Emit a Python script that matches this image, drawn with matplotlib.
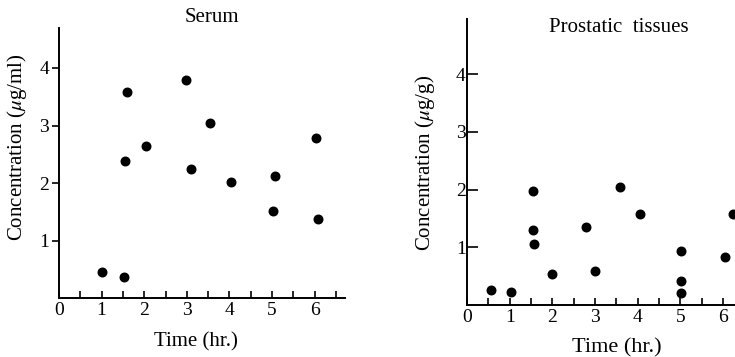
import matplotlib
matplotlib.use("Agg")
import matplotlib.pyplot as plt
from matplotlib.ticker import MultipleLocator

plt.rcParams['font.family'] = ['Liberation Serif', 'DejaVu Serif']
plt.rcParams['mathtext.fontset'] = 'stix'

# Serum data
serum_t = [1.02, 1.52, 1.59, 1.55, 2.05, 2.97, 3.10, 3.55, 4.03, 5.02, 5.07, 6.04, 6.08]
serum_c = [0.46, 0.36, 3.59, 2.39, 2.65, 3.80, 2.24, 3.04, 2.02, 1.51, 2.12, 2.79, 1.37]

# Prostatic tissue data
tissue_t = [0.57, 1.02, 1.55, 1.55, 1.57, 2.00, 2.78, 3.00, 3.58, 4.05, 5.01, 5.01, 5.01, 6.04, 6.24]
tissue_c = [0.26, 0.23, 1.98, 1.30, 1.06, 0.53, 1.35, 0.59, 2.04, 1.57, 0.94, 0.42, 0.21, 0.83, 1.57]

x_ticks = [0, 1, 2, 3, 4, 5, 6]
y_ticks = [1, 2, 3, 4]

W, H = 735, 357
fig = plt.figure(figsize=(W / 100, H / 100), dpi=100)

def px_axes(x0, x1, ytop, ybot):
    return fig.add_axes([x0 / W, (H - ybot) / H, (x1 - x0) / W, (ybot - ytop) / H])

def style(ax, ydir):
    for s in ['top', 'right']:
        ax.spines[s].set_visible(False)
    for s in ['left', 'bottom']:
        ax.spines[s].set_linewidth(1.4)
    ax.set_xticks(x_ticks)
    ax.set_xticklabels([str(v) for v in x_ticks])
    ax.xaxis.set_minor_locator(MultipleLocator(0.5))
    ax.set_yticks(y_ticks)
    ax.set_yticklabels([str(v) for v in y_ticks])
    ax.tick_params(axis='x', which='both', direction='in', length=5, width=1.2,
                   labelsize=14, pad=3)
    ax.tick_params(axis='y', which='both', direction=ydir, length=5 if ydir == 'out' else 8,
                   width=1.2, labelsize=14, pad=2 if ydir == 'out' else 1)

# Left panel: Serum
ax1 = px_axes(59, 345, 28, 298)
ax1.set_xlim(0, (345 - 59) / 42.6)
ax1.set_ylim(0, (298 - 28) / 57.5)
ax1.scatter(serum_t, serum_c, s=38, color='black', zorder=3)
style(ax1, 'out')

# Right panel: Prostatic tissues
ax2 = px_axes(467, 735, 19, 305)
ax2.set_xlim(0, (735 - 467) / 42.66)
ax2.set_ylim(0, (305 - 19) / 57.7)
ax2.scatter(tissue_t, tissue_c, s=38, color='black', zorder=3)
style(ax2, 'in')

fig.text(212 / W, 1 - 17 / H, 'Serum', ha='center', va='center', fontsize=15)
fig.text(619 / W, 1 - 28 / H, 'Prostatic  tissues', ha='center', va='center', fontsize=15)
fig.text(196 / W, 1 - 342 / H, 'Time (hr.)', ha='center', va='center', fontsize=15)
fig.text(617 / W, 1 - 348 / H, 'Time (hr.)', ha='center', va='center', fontsize=16)
fig.text(17 / W, 1 - 147 / H, 'Concentration ($\\mu$g/ml)', ha='center', va='center',
         rotation=90, fontsize=15)
fig.text(425 / W, 1 - 163 / H, 'Concentration ($\\mu$g/g)', ha='center', va='center',
         rotation=90, fontsize=15)

fig.savefig('out.png', dpi=100)
